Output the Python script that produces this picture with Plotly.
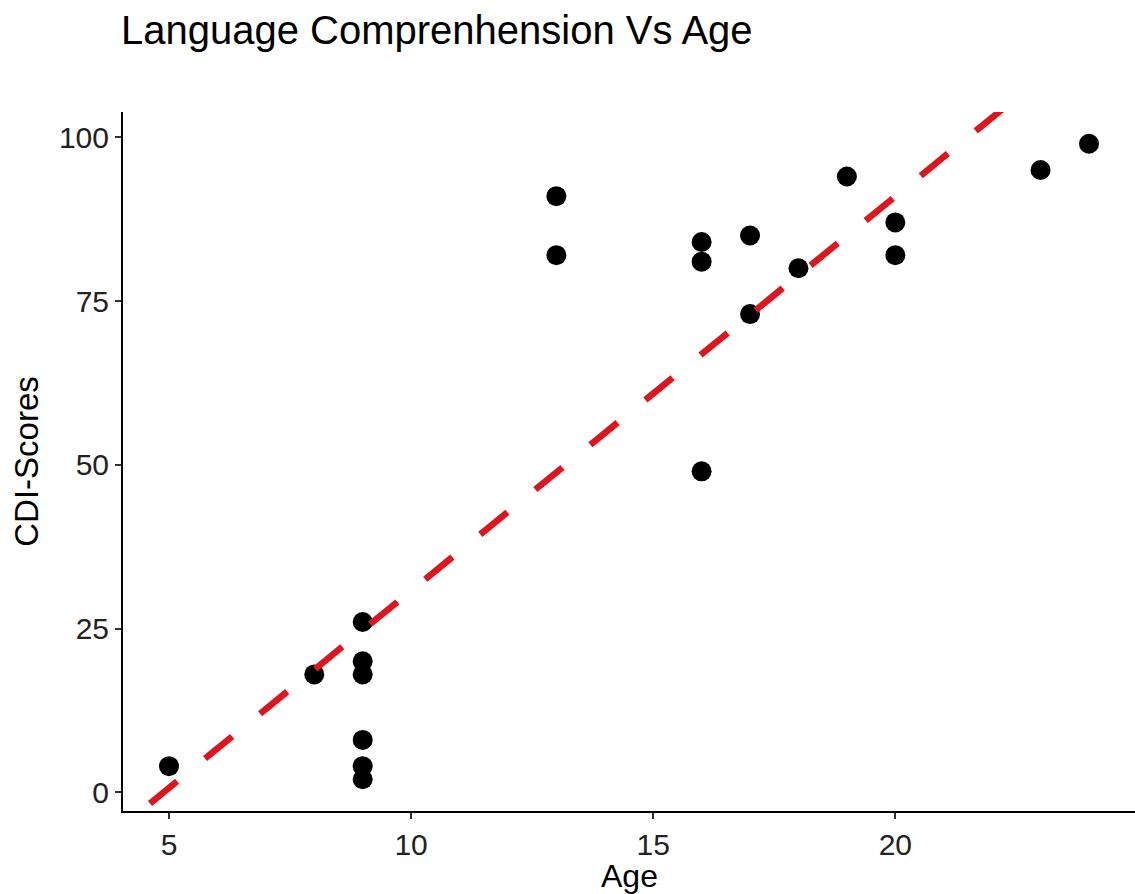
import numpy as np
import plotly.graph_objects as go

# Data
age = [5, 8, 9, 9, 9, 9, 9, 9, 13, 13, 16, 16, 16, 17, 17, 18, 19, 20, 20, 23, 24]
cdi = [4, 18, 26, 20, 18, 8, 4, 2, 91, 82, 84, 81, 49, 85, 73, 80, 94, 87, 82, 95, 99]
x_ticks = [5, 10, 15, 20]
y_ticks = [0, 25, 50, 75, 100]

# least squares line (as geom_abline of lm fit)
slope, intercept = np.polyfit(age, cdi, 1)

xr = [min(age) - 0.05 * (max(age) - min(age)), max(age) + 0.05 * (max(age) - min(age))]
yr = [min(cdi) - 0.05 * (max(cdi) - min(cdi)), max(cdi) + 0.05 * (max(cdi) - min(cdi))]

line_x = np.array([xr[0] - 0.58, xr[1]])
line_y = intercept + slope * line_x

FONT = "Liberation Sans, Arial, Helvetica, sans-serif"
H, T, B = 894, 112, 83
plot_h = H - T - B

fig = go.Figure()
fig.add_trace(go.Scatter(
    x=age, y=cdi, mode="markers",
    marker=dict(color="black", size=20, line=dict(width=0)),
    showlegend=False, cliponaxis=False,
))
fig.add_trace(go.Scatter(
    x=line_x, y=line_y, mode="lines",
    line=dict(color="#e0141c", width=6.5, dash="35px,36px"),
    showlegend=False,
))

fig.update_layout(
    width=1135, height=H,
    margin=dict(l=123, r=0, t=T, b=B),
    paper_bgcolor="white", plot_bgcolor="white",
    font=dict(family=FONT, color="black"),
    title=dict(text="Language Comprenhension Vs Age", x=121 / 1135, xref="container", xanchor="left",
               y=1 - 30 / H, yref="container", yanchor="middle",
               font=dict(size=40, color="black", family=FONT)),
    annotations=[dict(text="Age", xref="paper", yref="paper", x=0.5, y=-(876 - (H - B)) / plot_h,
                      xanchor="center", yanchor="middle", showarrow=False,
                      font=dict(size=32, color="black", family=FONT))],
)
fig.update_xaxes(
    range=xr, tickvals=x_ticks, ticktext=[str(v) for v in x_ticks],
    showgrid=False, zeroline=False,
    showline=True, linecolor="black", linewidth=2,
    ticks="outside", ticklen=6, tickwidth=2, tickcolor="#333333",
    tickfont=dict(size=30, color="#222222"),
)
fig.update_yaxes(
    range=yr, tickvals=y_ticks, ticktext=[str(v) for v in y_ticks],
    showgrid=False, zeroline=False,
    showline=True, linecolor="black", linewidth=2,
    ticks="outside", ticklen=6, tickwidth=2, tickcolor="#333333",
    tickfont=dict(size=30, color="#222222"),
    title=dict(text="CDI-Scores", font=dict(size=33, color="black"), standoff=10),
)

fig.write_html("out.html")
